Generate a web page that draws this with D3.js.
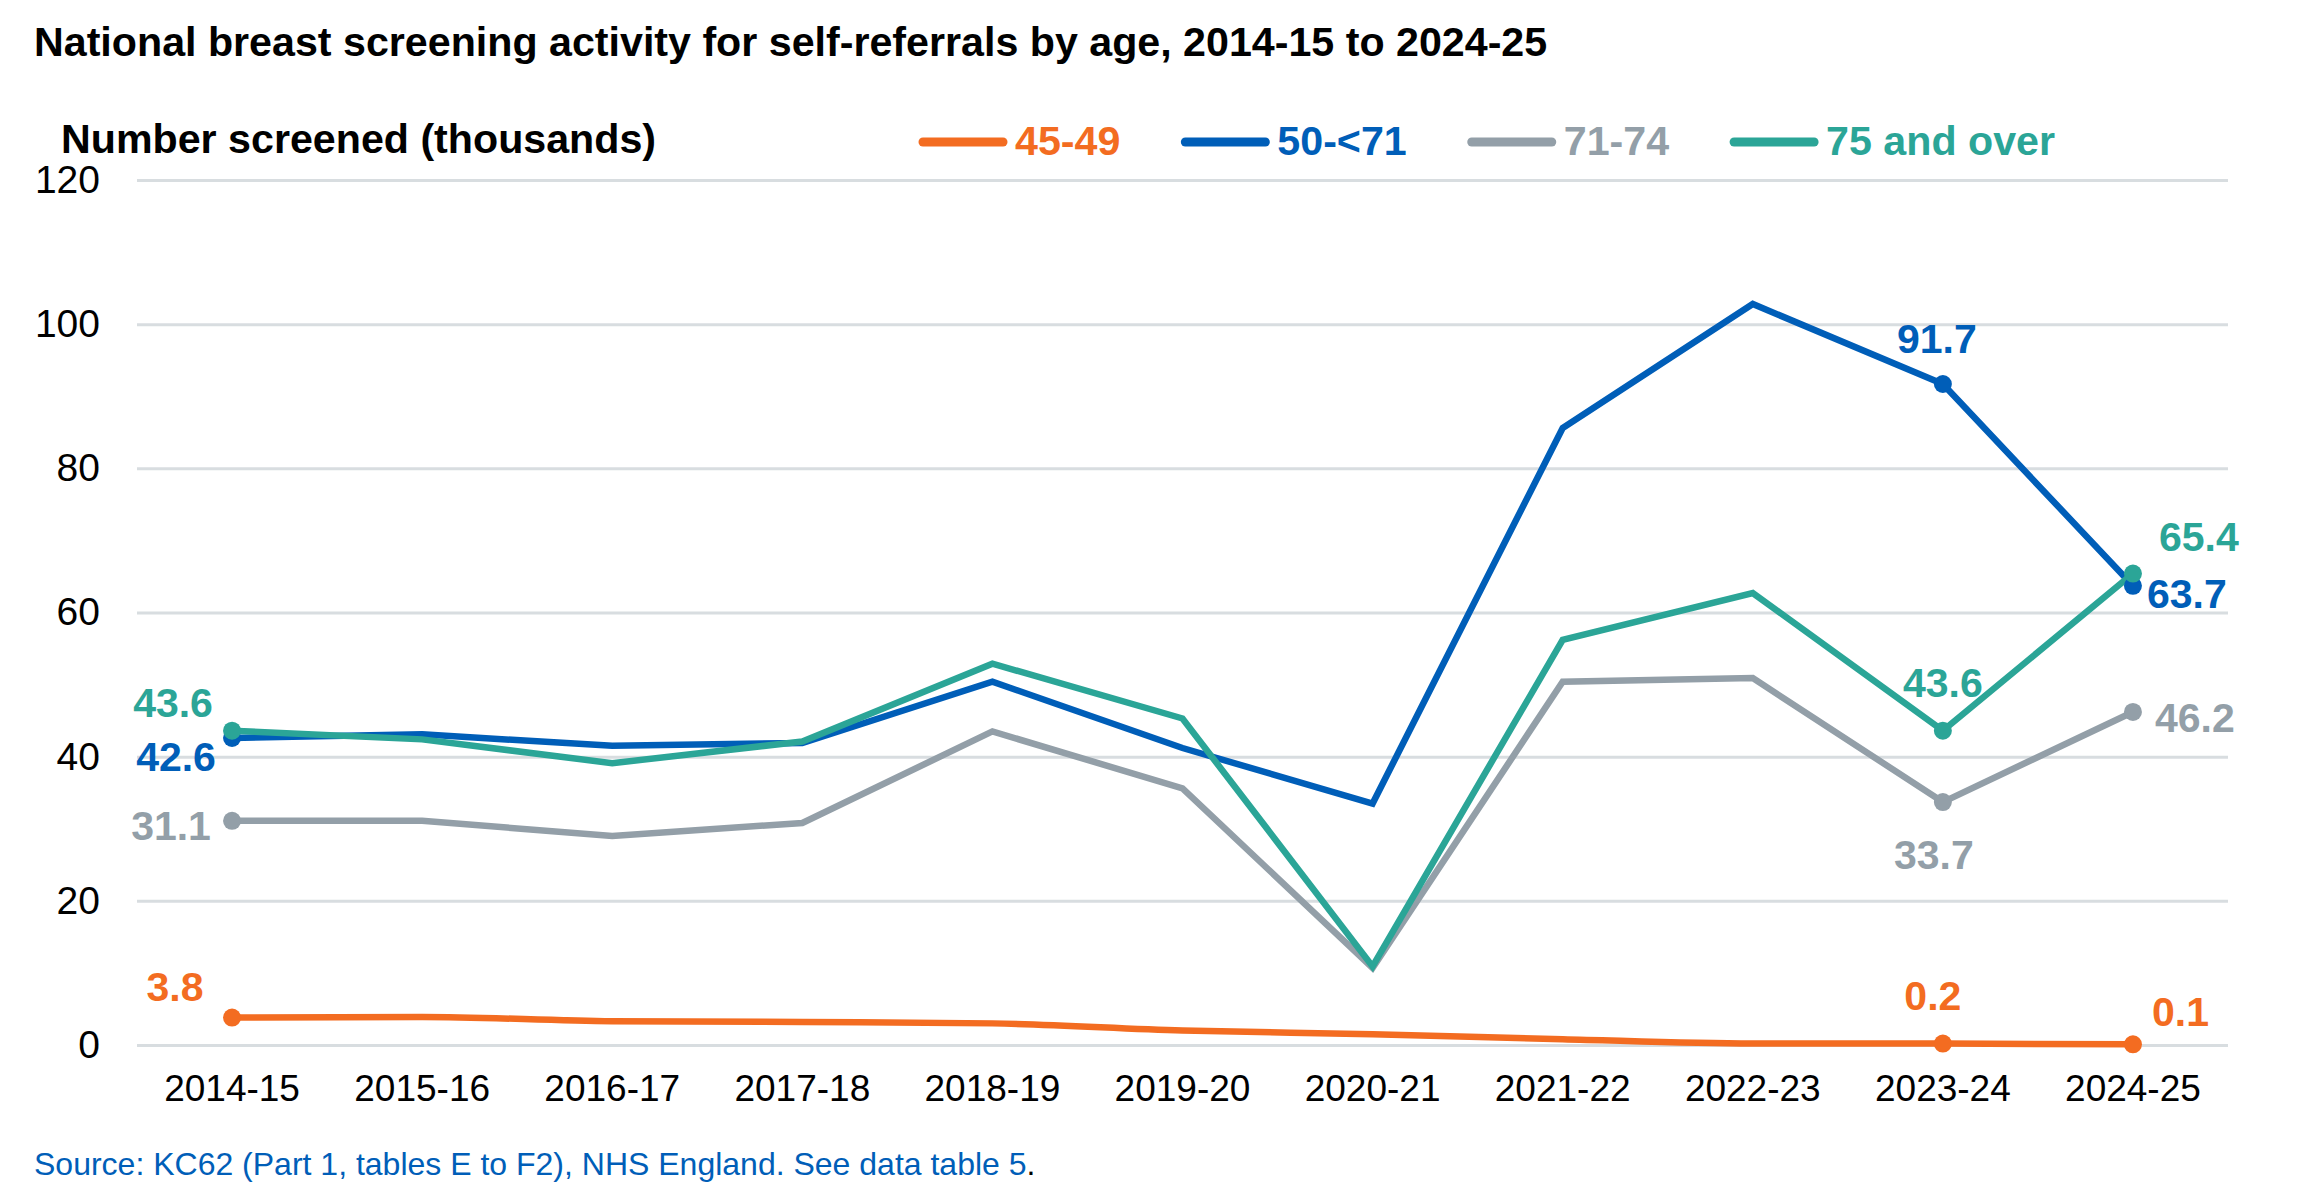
<!DOCTYPE html>
<html>
<head>
<meta charset="utf-8">
<script src="https://cdn.jsdelivr.net/npm/d3@7"></script>
<style>
  body { margin: 0; background: #fff; }
  svg { font-family: "Liberation Sans", Arial, sans-serif; }
  .grid line { stroke: #d8dde0; stroke-width: 3; }
  .grid path { display: none; }
  .tick text { fill: #000; }
</style>
</head>
<body>
<svg id="chart" width="2306" height="1202"></svg>
<script>
// Data (thousands screened)
const years = ['2014-15', '2015-16', '2016-17', '2017-18', '2018-19', '2019-20',
  '2020-21', '2021-22', '2022-23', '2023-24', '2024-25'];
const age45to49 = [3.8, 3.9, 3.3, 3.2, 3.0, 2.0, 1.5, 0.8, 0.2, 0.2, 0.1];
const age50to70 = [42.6, 43.1, 41.5, 41.9, 50.4, 41.2, 33.5, 85.6, 102.8, 91.7, 63.7];
const age71to74 = [31.1, 31.1, 29.0, 30.8, 43.5, 35.6, 10.7, 50.4, 50.9, 33.7, 46.2];
const age75plus = [43.6, 42.4, 39.1, 42.1, 52.9, 45.3, 10.9, 56.2, 62.7, 43.6, 65.4];
const seriesNames = ['45-49', '50-<71', '71-74', '75 and over'];
const yTicks = [0, 20, 40, 60, 80, 100, 120];
const labelled = [0, 9, 10];

const colors = ['#f36c21', '#005eb8', '#939fa8', '#2ba597'];
const series = [age45to49, age50to70, age71to74, age75plus].map((values, i) => ({
  name: seriesNames[i], color: colors[i], values
}));

// label placement per series for points 0, 9, 10: [anchor, dx, dy]
const labelPos = [
  [['middle', -57, -17], ['middle', -10, -34], ['start', 19, -18]],
  [['middle', -56, 33], ['middle', -6, -31], ['start', 14, 22]],
  [['middle', -61, 19], ['middle', -9, 67], ['start', 22, 20]],
  [['middle', -59, -14], ['middle', 0, -34], ['start', 26, -23]]
];

const svg = d3.select('#chart');
const margin = { left: 137, right: 78, top: 180, bottom: 157 };
const width = 2306, height = 1202;

const x = d3.scaleBand().domain(years).range([margin.left, width - margin.right]);
const y = d3.scaleLinear().domain([0, 120]).range([height - margin.bottom, margin.top]);
const cx = d => x(d) + x.bandwidth() / 2;

// Title
svg.append('text')
  .attr('x', 34).attr('y', 56)
  .attr('font-size', 41.2).attr('font-weight', 'bold')
  .text('National breast screening activity for self-referrals by age, 2014-15 to 2024-25');

svg.append('text')
  .attr('x', 61).attr('y', 153)
  .attr('font-size', 41.2).attr('font-weight', 'bold')
  .text('Number screened (thousands)');

// Gridlines
svg.append('g')
  .attr('class', 'grid')
  .attr('transform', `translate(${margin.left},0)`)
  .call(d3.axisLeft(y).tickValues(yTicks).tickSize(-(width - margin.left - margin.right)).tickFormat(''));

// Y axis labels
svg.append('g')
  .attr('transform', `translate(100,0)`)
  .call(d3.axisLeft(y).tickValues(yTicks).tickSize(0).tickPadding(0))
  .call(g => g.select('.domain').remove())
  .selectAll('text')
    .attr('font-size', 39)
    .attr('font-family', '"Liberation Sans", Arial, sans-serif');

// X axis labels
svg.append('g')
  .attr('transform', `translate(0,${height - margin.bottom})`)
  .call(d3.axisBottom(x).tickSize(0).tickPadding(0))
  .call(g => g.select('.domain').remove())
  .selectAll('text')
    .attr('font-size', 37)
    .attr('font-family', '"Liberation Sans", Arial, sans-serif')
    .attr('dy', 0)
    .attr('y', 56);

// Lines
const line = d3.line().x((d, i) => cx(years[i])).y(d => y(d));
const smooth = d3.line().x((d, i) => cx(years[i])).y(d => y(d)).curve(d3.curveMonotoneX);

series.forEach((s, si) => {
  svg.append('path')
    .attr('d', (si === 0 ? smooth : line)(s.values))
    .attr('fill', 'none')
    .attr('stroke', s.color)
    .attr('stroke-width', 6.5)
    .attr('stroke-linejoin', 'miter');
});

// Markers and value labels
series.forEach((s, si) => {
  const g = svg.append('g');
  g.selectAll('circle').data(labelled)
    .enter().append('circle')
      .attr('cx', i => cx(years[i]))
      .attr('cy', i => y(s.values[i]))
      .attr('r', 9)
      .attr('fill', s.color);
  g.selectAll('text').data(labelled)
    .enter().append('text')
      .attr('x', (i, k) => cx(years[i]) + labelPos[si][k][1])
      .attr('y', (i, k) => y(s.values[i]) + labelPos[si][k][2])
      .attr('text-anchor', (i, k) => labelPos[si][k][0])
      .attr('font-size', 41).attr('font-weight', 'bold')
      .attr('fill', s.color)
      .text(i => s.values[i].toFixed(1));
});

// Legend
const legend = svg.append('g');
let lx = 918;
series.forEach(s => {
  legend.append('line')
    .attr('x1', lx + 5).attr('x2', lx + 85)
    .attr('y1', 142).attr('y2', 142)
    .attr('stroke', s.color).attr('stroke-width', 9)
    .attr('stroke-linecap', 'round');
  const t = legend.append('text')
    .attr('x', lx + 97).attr('y', 155)
    .attr('font-size', 41.2).attr('font-weight', 'bold')
    .attr('fill', s.color)
    .text(s.name);
  lx += 97 + t.node().getComputedTextLength() + 60;
});

// Source
const src = svg.append('text')
  .attr('x', 34).attr('y', 1175)
  .attr('font-size', 32)
  .attr('fill', '#005eb8');
src.append('tspan').text('Source: KC62 (Part 1, tables E to F2), NHS England. See data table 5');
src.append('tspan').attr('fill', '#000').text('.');
</script>
</body>
</html>
